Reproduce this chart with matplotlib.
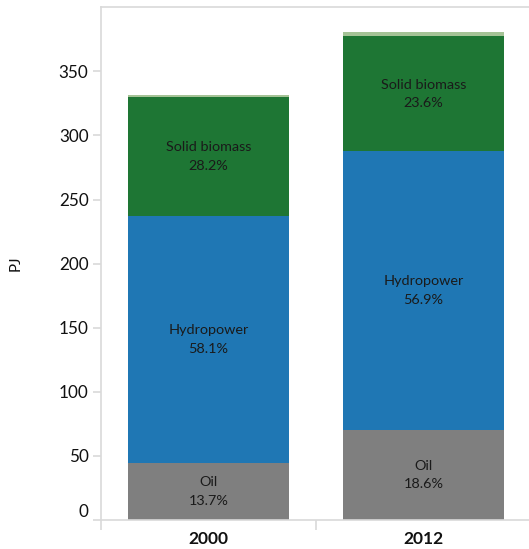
import matplotlib
matplotlib.use("Agg")
import matplotlib.pyplot as plt
import numpy as np

years = ["2000", "2012"]
series = ["Oil", "Hydropower", "Solid biomass", "Other"]
oil = [44.5, 70.5]
hydro = [193.0, 217.0]
biomass = [92.5, 90.0]
other = [1.5, 3.5]
labels_pct = {
    "Oil": ["13.7%", "18.6%"],
    "Hydropower": ["58.1%", "56.9%"],
    "Solid biomass": ["28.2%", "23.6%"],
}
colors = {"Oil": "#7f7f7f", "Hydropower": "#1f77b4",
          "Solid biomass": "#1e7634", "Other": "#a5c396"}
yticks = [0, 50, 100, 150, 200, 250, 300, 350]

plt.rcParams['font.family'] = ['Lato', 'DejaVu Sans']

W, H = 529, 549
fig = plt.figure(figsize=(W / 100, H / 100), dpi=100)
ax = fig.add_axes([101 / W, (H - 520) / H, 430 / W, (520 - 7.3) / H])

x = np.arange(len(years))
data = {"Oil": oil, "Hydropower": hydro, "Solid biomass": biomass, "Other": other}
bottom = np.zeros(len(years))
for s in series:
    vals = np.array(data[s])
    ax.bar(x, vals, bottom=bottom, width=0.753, color=colors[s], linewidth=0)
    if s in labels_pct:
        for i in range(len(years)):
            ax.text(x[i], bottom[i] + vals[i] / 2, f"{s}\n{labels_pct[s][i]}",
                    ha="center", va="center", fontsize=10.4, color="#1a1a1a",
                    linespacing=1.65)
    bottom += vals

ax.set_xlim(-0.5, 1.5)
ax.set_ylim(0, 400)

spine_c = "#d9d9d9"
for side in ["left", "bottom", "top"]:
    ax.spines[side].set_color(spine_c)
    ax.spines[side].set_linewidth(1.2)
ax.spines["right"].set_visible(False)

ax.set_yticks(yticks)
ax.set_yticklabels([str(v) for v in yticks])
ax.tick_params(axis="y", length=6, width=1.2, color=spine_c, labelsize=12.3,
               labelcolor="#111111", pad=3)
ax.get_yticklabels()[0].set_va("bottom")

ax.set_xticks(x)
ax.set_xticklabels(years, fontweight="bold", fontsize=12.5, color="#111111")
ax.set_xticks([-0.5, 0.5], minor=True)
ax.tick_params(axis="x", which="major", length=0, pad=8)
ax.tick_params(axis="x", which="minor", length=7, width=1.2, color=spine_c)

ax.set_ylabel("PJ", fontsize=11, color="#111111", labelpad=26)

fig.savefig("out.png", dpi=100)
